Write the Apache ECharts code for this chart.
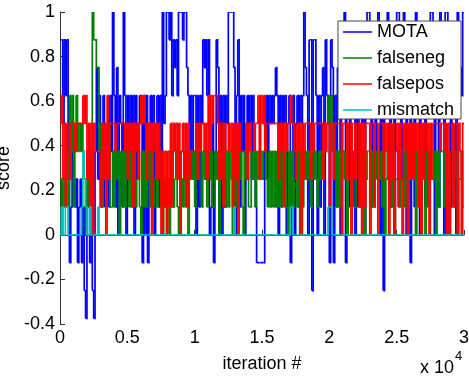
<!DOCTYPE html>
<html>
<head>
<meta charset="utf-8">
<script src="https://cdn.jsdelivr.net/npm/echarts@6/dist/echarts.min.js"></script>
<style>html,body{margin:0;padding:0;background:#fff}#c{width:469px;height:376px}</style>
</head>
<body>
<div id="c"></div>
<script>
// Values are read off the picture in units of 1/8 (scores are multiples of 0.125),
// one sample every 100 iterations.
const STEP_ITER = 100;
const seriesNames = ['MOTA', 'falseneg', 'falsepos', 'mismatch'];
const xTickLabels = ['0', '0.5', '1', '1.5', '2', '2.5', '3'];
const yTickLabels = ['-0.4', '-0.2', '0', '0.2', '0.4', '0.6', '0.8', '1'];

const motaEighths = [
  7,7,4,7,5,7,2,-1,1,3,2,1,2,-1,1,2,-1,1,-2,-3,
  1,2,-1,1,-2,-3,3,6,2,5,1,3,5,1,2,4,1,5,3,8,
  5,1,6,0,5,4,1,8,5,0,5,2,5,1,5,0,5,2,4,5,
  4,-1,5,0,5,-1,3,5,1,5,0,4,5,1,5,1,8,4,5,8,
  8,7,8,5,7,6,7,5,8,8,8,7,8,8,6,5,3,5,2,5,
  5,0,5,1,5,4,7,6,7,5,7,0,1,4,-1,3,7,6,0,5,
  0,5,1,5,4,8,8,8,8,6,0,5,7,1,5,3,5,0,4,5,
  4,5,2,5,3,1,-1,-1,-1,-1,-1,-1,3,5,2,5,4,5,4,5,
  6,5,0,5,1,5,4,5,0,4,5,-1,3,5,0,4,5,1,5,4,
  5,8,6,5,0,7,7,-2,7,7,5,0,5,1,5,6,0,7,5,4,
  -1,7,6,-1,5,1,6,5,0,6,5,8,-1,5,6,1,5,6,5,0,
  5,1,5,6,4,5,0,5,8,8,5,1,5,6,3,5,8,5,0,5,
  -2,5,6,8,5,1,6,5,0,5,8,8,5,2,6,8,5,0,6,5,
  -1,5,6,1,8,5,6,0,5,6,5,1,6,5,6,8,8,5,0,6,
  5,1,8,5,6,0,8,8,5,6,1,5,6,5,0,8,5,6,5,8
];
const falsenegEighths = [
  2,0,2,1,2,
  3,1,5,3,5,1,3,
  5,3,4,3,4,3,
  2,0,3,1,3,1,
  8,7,7,6,6,
  3,4,1,4,3,1,3,4,1,
  1,3,1,3,2,3,0,3,1,3,
  1,3,2,1,3,1,3,3,1,2,3,1,0,3,1,3,1,2,3,1,3,1,2,3,1,3,2,
  1,0,2,1,1,2,0,
  1,3,1,2,3,1,0,3,2,1,3,1,3,0,2,
  3,2,3,1,3,2,3,3,1,3,2,3,1,3,2,3,1,1,3,2,3,0,2,3,1,3,
  1,3,1,3,2,0,3,1,3,1,2,3,1,0,3,2,3,1,1,3,2,3,1,
  3,2,3,3,2,3,3,2,
  1,3,1,3,1,3,1,3,
  1,3,1,3,2,3,1,0,3,1,3,1,2,3,1,3,0,3,1,3,2,
  3,2,3,1,3,2,3,2,1,3,2,3,2,3,3,4,
  5,4,5,3,4,3,
  1,3,1,3,3,3,2,3,0,2,2,2,3,1,1,3,3,3,1,3,
  2,0,2,3,3,3,1,3,1,3,2,2,2,3,1,3,0,2,3,3,
  3,1,3,0,2,2,3,1,3,3,3,1,3,1,3,2,2,2,3,0,
  3,1,3,3,3,2,0,3,1,3,2,2,2,3,0,3,1,3,3,3,
  1,3,2,0,3,3,3,1,3,2,0,2,2,3,1
];
const falseposEighths = [
  4,5,2,
  4,1,4,4,2,4,4,4,3,
  4,4,4,4,4,
  5,4,5,2,4,1,4,0,4,
  3,3,3,3,
  1,4,2,4,0,5,2,4,
  4,4,4,3,4,4,4,4,4,4,
  3,4,2,4,3,4,1,4,3,4,2,4,5,4,5,4,2,4,3,4,0,4,3,4,2,4,3,
  0,3,1,3,0,3,1,
  4,1,4,3,4,2,4,0,3,4,2,4,1,4,2,
  3,3,3,3,
  4,2,4,3,
  4,4,3,4,
  2,5,3,5,4,
  5,5,5,
  4,2,4,4,1,4,
  3,3,
  4,3,4,1,4,2,4,0,4,
  3,3,3,3,
  4,2,4,3,
  4,4,3,4,4,
  5,2,5,4,5,3,4,
  4,4,4,4,4,4,4,4,
  2,4,3,4,1,4,3,
  4,4,5,4,4,3,
  2,4,3,4,0,4,2,4,
  4,4,4,
  2,4,3,4,
  4,4,4,4,4,
  2,4,3,4,4,1,4,4,2,4,
  4,4,4,4,0,4,4,4,
  2,4,4,0,4,4,2,4,4,1,
  4,0,4,1,4,
  4,4,0,4,4,1,4,4,0,4,4,4,
  2,4,3,4,0,4,2,4,0,3,4,1,4,2,0,4,3,4,0,4,2,4,
  2,4,3,4,1,4,0,4,2,4,3,4,0,4,2,
  4,4,4,4,4,
  3,4,4,3,4,0,4,0,3,4,1,4,4,0,4,3,0,4
];
const mismatchEighths = [
  0,1,0,0,1,1,0,0,0,0,0,0,0,0,0,0,1,3,2,1,
  0,0,1,0,0,0,0,0,1,0,0,0,0,0,0,0,0,0,0,0,
  0,0,0,0,0,0,0,0,0,0,0,0,0,0,0,0,0,0,0,0,
  0,0,0,0,0,0,0,0,0,0,0,0,0,0,0,0,0,0,0,0,
  0,0,0,0,0,0,0,0,0,0,0,0,0,0,0,0,0,0,0,0,
  0,0,0,0,0,0,0,0,0,0,0,0,0,0,0,0,0,0,0,0,
  0,0,0,0,0,0,0,0,0,1,0,0,0,0,0,0,0,0,0,0,
  0,0,0,0,0,0,0,0,0,0,0,0,0,0,0,0,0,0,0,0,
  0,0,0,0,0,0,0,0,0,0,0,1,1,0,0,0,0,0,0,0,
  0,0,0,0,0,0,0,0,0,0,0,0,0,0,0,0,0,0,0,1,
  1,1,0,0,0,0,0,0,0,0,0,0,0,0,0,0,0,0,0,0,
  0,0,0,0,0,0,0,0,0,0,0,0,0,0,0,0,0,0,0,0,
  0,0,0,0,0,0,0,0,0,0,0,0,0,0,0,0,0,0,0,0,
  0,0,0,0,0,0,0,0,0,0,0,0,0,0,0,0,0,0,0,0,
  0,0,0,0,0,0,0,0,0,0,0,0,0,0,0,0,0,0,0,0
];

const colors = ['#0000ff', '#008000', '#ff0000', '#00bfbf'];
const FONT = '"Liberation Sans", Arial, Helvetica, sans-serif';
const LINE_W = 1.7;

// each item: [iteration, value, previous value, isLast]
function toItems(arr) {
  return arr.map((v, i) => [i * STEP_ITER, v / 8, (i > 0 ? arr[i - 1] : v) / 8, i === arr.length - 1 ? 1 : 0]);
}
const allData = [motaEighths, falsenegEighths, falseposEighths, mismatchEighths];

function makeRender(color) {
  return function (params, api) {
    const x = api.value(0), y = api.value(1), py = api.value(2), last = api.value(3);
    const pts = [];
    if (params.dataIndex > 0) pts.push(api.coord([x - STEP_ITER, py]));
    pts.push(api.coord([x, py]));
    pts.push(api.coord([x, y]));
    if (last) pts.push(api.coord([30000, y]));
    return {
      type: 'polyline',
      shape: {points: pts},
      style: {stroke: color, lineWidth: LINE_W, fill: null},
      silent: true
    };
  };
}

const chart = echarts.init(document.getElementById('c'), null, {renderer: 'canvas'});
chart.setOption({
  animation: false,
  backgroundColor: '#fff',
  color: colors,
  grid: {left: 60, right: 5, top: 12, bottom: 52, containLabel: false, outerBoundsMode: 'none'},
  xAxis: {
    type: 'value', min: 0, max: 30000, interval: 5000,
    name: 'iteration #', nameLocation: 'middle', nameGap: 31,
    nameTextStyle: {fontFamily: FONT, fontSize: 18, color: '#000'},
    axisLine: {show: true, lineStyle: {color: '#333', width: 1}},
    axisTick: {show: true, inside: true, length: 5, lineStyle: {color: '#333'}},
    axisLabel: {fontFamily: FONT, fontSize: 18, color: '#000', margin: 5,
      formatter: v => xTickLabels[Math.round(v / 5000)]},
    splitLine: {show: false}
  },
  yAxis: {
    type: 'value', min: -0.4, max: 1, interval: 0.2,
    name: 'score', nameLocation: 'middle', nameGap: 38,
    nameTextStyle: {fontFamily: FONT, fontSize: 18, color: '#000'},
    axisLine: {show: true, lineStyle: {color: '#333', width: 1}},
    axisTick: {show: true, inside: true, length: 5, lineStyle: {color: '#333'}},
    axisLabel: {fontFamily: FONT, fontSize: 18, color: '#000', margin: 5,
      formatter: v => yTickLabels[Math.round((v + 0.4) / 0.2)]},
    splitLine: {show: false}
  },
  legend: {
    orient: 'vertical', left: 338, top: 21,
    data: seriesNames.map(n => ({name: n, icon: 'rect'})),
    backgroundColor: '#fff', borderColor: '#444', borderWidth: 1,
    padding: [2, 7, 0, 5], itemGap: 8, itemWidth: 29, itemHeight: 1.5,
    textStyle: {fontFamily: FONT, fontSize: 18, color: '#000', lineHeight: 17}
  },
  graphic: [
    {type: 'text', left: 420, top: 359, style: {text: 'x 10', font: '18px ' + FONT, fill: '#000'}},
    {type: 'text', left: 455, top: 350, style: {text: '4', font: '13px ' + FONT, fill: '#000'}}
  ],
  series: seriesNames.map((name, k) => ({
    name, type: 'custom', coordinateSystem: 'cartesian2d', clip: true,
    data: toItems(allData[k]),
    encode: {x: 0, y: 1},
    itemStyle: {color: colors[k]},
    renderItem: makeRender(colors[k])
  }))
});
</script>
</body>
</html>
